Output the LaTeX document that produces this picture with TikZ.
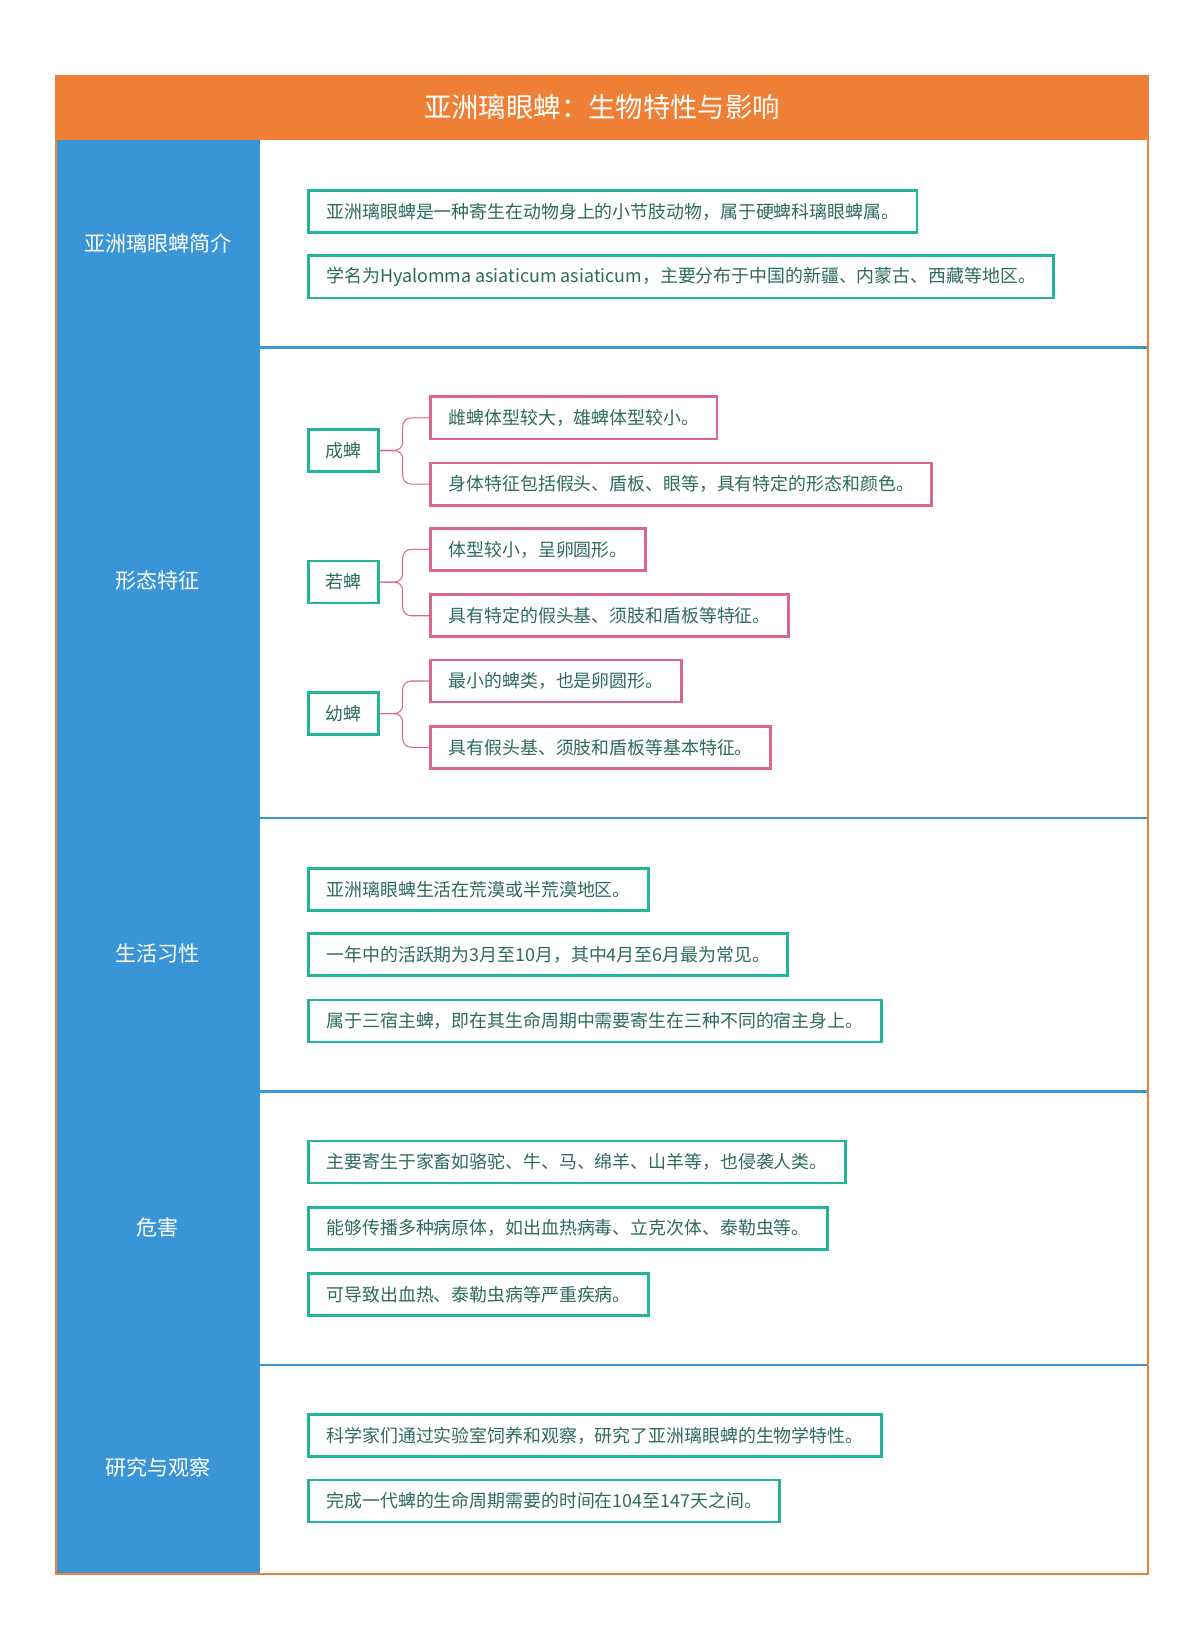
\documentclass[tikz,border=0pt]{standalone}
\usepackage{fontspec}
\setmainfont{Noto Sans CJK SC}
\definecolor{orangeT}{HTML}{EE7F35}
\definecolor{blueC}{HTML}{3A95D6}
\definecolor{tealB}{HTML}{22B598}
\definecolor{pinkB}{HTML}{D8668F}
\definecolor{txt}{HTML}{2E6A5E}
\tikzset{
 leaf/.style={draw=tealB,line width=2.6pt,fill=white,anchor=west,minimum height=40pt,inner xsep=17pt,text=txt,font=\fontsize{17}{20}\selectfont},
 pleaf/.style={leaf,draw=pinkB},
 sec/.style={text=white,font=\fontsize{20}{24}\selectfont},
 conn/.style={draw=pinkB,line width=1pt,rounded corners=8pt}
}
\begin{document}
\begin{tikzpicture}[x=1pt,y=-1pt]
\useasboundingbox (0,0) rectangle (1140,1561);
\fill[white] (0,0) rectangle (1140,1561);
\fill[blueC] (53,133) rectangle (247,1495);
\foreach \y in {330,777,1037,1297} \draw[blueC,line width=2.5pt] (247,\y) -- (1091,\y);
\draw[orangeT,line width=2pt] (53,72) rectangle (1091,1495);
\fill[orangeT] (53,72) rectangle (1092,133);
\node[text=white,font=\fontsize{26}{30}\selectfont] (title) at (572,102) {亚洲璃眼蜱：生物特性与影响};
\node[sec] (s1) at (150,231) {亚洲璃眼蜱简介};
\node[sec] (s2) at (150,552) {形态特征};
\node[sec] (s3) at (150,906) {生活习性};
\node[sec] (s4) at (150,1166) {危害};
\node[sec] (s5) at (150,1394) {研究与观察};
\node[leaf] (a1) at (292,201) {亚洲璃眼蜱是一种寄生在动物身上的小节肢动物，属于硬蜱科璃眼蜱属。};
\node[leaf] (a2) at (292,263) {学名为Hyalomma asiaticum asiaticum，主要分布于中国的新疆、内蒙古、西藏等地区。};
\node[leaf,inner xsep=16pt] (c1) at (292,428) {成蜱};
\node[pleaf] (p11) at (408,397) {雌蜱体型较大，雄蜱体型较小。};
\node[pleaf] (p12) at (408,460) {身体特征包括假头、盾板、眼等，具有特定的形态和颜色。};
\node[leaf,inner xsep=16pt] (c2) at (292,553) {若蜱};
\node[pleaf] (p21) at (408,522) {体型较小，呈卵圆形。};
\node[pleaf] (p22) at (408,585) {具有特定的假头基、须肢和盾板等特征。};
\node[leaf,inner xsep=16pt] (c3) at (292,678) {幼蜱};
\node[pleaf] (p31) at (408,647) {最小的蜱类，也是卵圆形。};
\node[pleaf] (p32) at (408,710) {具有假头基、须肢和盾板等基本特征。};
\foreach \c/\u/\d in {c1/p11/p12,c2/p21/p22,c3/p31/p32}{
 \draw[conn] (\c.east) -- ++(22,0) |- (\u.west);
 \draw[conn] (\c.east) -- ++(22,0) |- (\d.west);
}
\node[leaf] (b1) at (292,845) {亚洲璃眼蜱生活在荒漠或半荒漠地区。};
\node[leaf] (b2) at (292,907) {一年中的活跃期为3月至10月，其中4月至6月最为常见。};
\node[leaf] (b3) at (292,970) {属于三宿主蜱，即在其生命周期中需要寄生在三种不同的宿主身上。};
\node[leaf] (d1) at (292,1104) {主要寄生于家畜如骆驼、牛、马、绵羊、山羊等，也侵袭人类。};
\node[leaf] (d2) at (292,1167) {能够传播多种病原体，如出血热病毒、立克次体、泰勒虫等。};
\node[leaf] (d3) at (292,1230) {可导致出血热、泰勒虫病等严重疾病。};
\node[leaf] (e1) at (292,1364) {科学家们通过实验室饲养和观察，研究了亚洲璃眼蜱的生物学特性。};
\node[leaf] (e2) at (292,1426) {完成一代蜱的生命周期需要的时间在104至147天之间。};
\end{tikzpicture}
\end{document}
